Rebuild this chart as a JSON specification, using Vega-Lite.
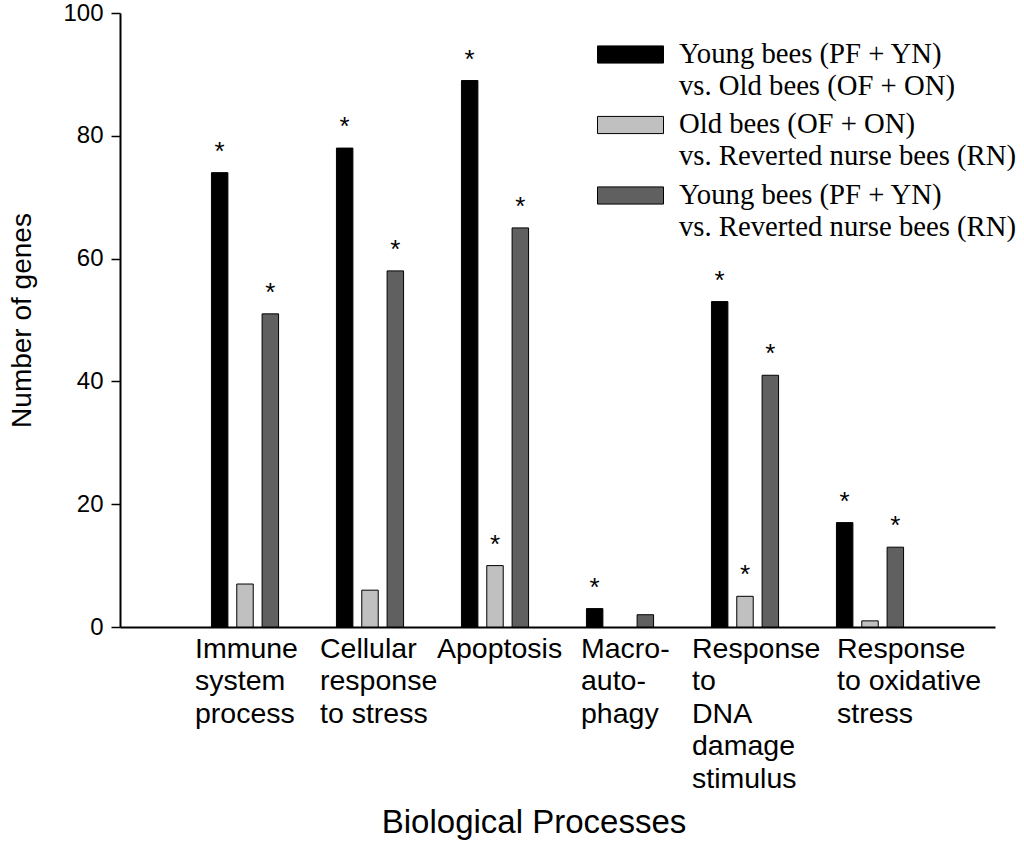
{
  "$schema": "https://vega.github.io/schema/vega-lite/v6.json",
  "autosize": {"type": "none"},
  "padding": {"left": 120, "top": 13, "right": 29, "bottom": 220},
  "width": 875,
  "height": 614,
  "background": "white",
  "config": {"view": {"stroke": null}, "font": "Liberation Sans"},
  "data": {
    "values": [
      {"process": "Immune system process", "comparison": "Young bees (PF + YN) vs. Old bees (OF + ON)", "genes": 74, "sig": true},
      {"process": "Immune system process", "comparison": "Old bees (OF + ON) vs. Reverted nurse bees (RN)", "genes": 7, "sig": false},
      {"process": "Immune system process", "comparison": "Young bees (PF + YN) vs. Reverted nurse bees (RN)", "genes": 51, "sig": true},
      {"process": "Cellular response to stress", "comparison": "Young bees (PF + YN) vs. Old bees (OF + ON)", "genes": 78, "sig": true},
      {"process": "Cellular response to stress", "comparison": "Old bees (OF + ON) vs. Reverted nurse bees (RN)", "genes": 6, "sig": false},
      {"process": "Cellular response to stress", "comparison": "Young bees (PF + YN) vs. Reverted nurse bees (RN)", "genes": 58, "sig": true},
      {"process": "Apoptosis", "comparison": "Young bees (PF + YN) vs. Old bees (OF + ON)", "genes": 89, "sig": true},
      {"process": "Apoptosis", "comparison": "Old bees (OF + ON) vs. Reverted nurse bees (RN)", "genes": 10, "sig": true},
      {"process": "Apoptosis", "comparison": "Young bees (PF + YN) vs. Reverted nurse bees (RN)", "genes": 65, "sig": true},
      {"process": "Macro-autophagy", "comparison": "Young bees (PF + YN) vs. Old bees (OF + ON)", "genes": 3, "sig": true},
      {"process": "Macro-autophagy", "comparison": "Old bees (OF + ON) vs. Reverted nurse bees (RN)", "genes": 0, "sig": false},
      {"process": "Macro-autophagy", "comparison": "Young bees (PF + YN) vs. Reverted nurse bees (RN)", "genes": 2, "sig": false},
      {"process": "Response to DNA damage stimulus", "comparison": "Young bees (PF + YN) vs. Old bees (OF + ON)", "genes": 53, "sig": true},
      {"process": "Response to DNA damage stimulus", "comparison": "Old bees (OF + ON) vs. Reverted nurse bees (RN)", "genes": 5, "sig": true},
      {"process": "Response to DNA damage stimulus", "comparison": "Young bees (PF + YN) vs. Reverted nurse bees (RN)", "genes": 41, "sig": true},
      {"process": "Response to oxidative stress", "comparison": "Young bees (PF + YN) vs. Old bees (OF + ON)", "genes": 17, "sig": true},
      {"process": "Response to oxidative stress", "comparison": "Old bees (OF + ON) vs. Reverted nurse bees (RN)", "genes": 1, "sig": false},
      {"process": "Response to oxidative stress", "comparison": "Young bees (PF + YN) vs. Reverted nurse bees (RN)", "genes": 13, "sig": true}
    ]
  },
  "encoding": {
    "x": {
      "field": "process",
      "type": "nominal",
      "sort": null,
      "scale": {
        "domain": ["Immune system process", "Cellular response to stress", "Apoptosis", "Macro-autophagy", "Response to DNA damage stimulus", "Response to oxidative stress"],
        "paddingInner": 0.463,
        "paddingOuter": 0.7315
      },
      "axis": {
        "title": "Biological Processes",
        "titleFontSize": 33,
        "titleFontWeight": "normal",
        "titleColor": "black",
        "titleX": 413.5,
        "titleY": 205,
        "titleBaseline": "alphabetic",
        "titleAlign": "center",
        "ticks": false,
        "labelAngle": 0,
        "labelAlign": "left",
        "labelBaseline": "top",
        "labelFontSize": 28.5,
        "labelColor": "black",
        "labelLineHeight": 32.5,
        "labelPadding": 7,
        "labelOverlap": false,
        "labelLimit": 0,
        "labelOffset": {
          "condition": [
            {"test": "datum.value === 'Apoptosis'", "value": -58},
            {"test": "datum.value === 'Macro-autophagy'", "value": -39},
            {"test": "datum.value === 'Response to DNA damage stimulus'", "value": -53},
            {"test": "datum.value === 'Response to oxidative stress'", "value": -33}
          ],
          "value": -50
        },
        "labelExpr": "datum.value === 'Immune system process' ? ['Immune','system','process'] : datum.value === 'Cellular response to stress' ? ['Cellular','response','to stress'] : datum.value === 'Macro-autophagy' ? ['Macro-','auto-','phagy'] : datum.value === 'Response to DNA damage stimulus' ? ['Response','to','DNA','damage','stimulus'] : datum.value === 'Response to oxidative stress' ? ['Response','to oxidative','stress'] : datum.value",
        "domainColor": "black",
        "domainWidth": 2
      }
    },
    "xOffset": {
      "field": "comparison",
      "type": "nominal",
      "sort": null,
      "scale": {
        "domain": ["Young bees (PF + YN) vs. Old bees (OF + ON)", "Old bees (OF + ON) vs. Reverted nurse bees (RN)", "Young bees (PF + YN) vs. Reverted nurse bees (RN)"],
        "paddingInner": 0.35,
        "paddingOuter": 0
      }
    },
    "y": {
      "field": "genes",
      "type": "quantitative",
      "scale": {"domain": [0, 100], "nice": false},
      "axis": {
        "values": [0, 20, 40, 60, 80, 100],
        "grid": false,
        "title": "Number of genes",
        "titleFontSize": 28,
        "titleFontWeight": "normal",
        "titleColor": "black",
        "titleX": -98,
        "titleY": 307,
        "titleBaseline": "middle",
        "titleAngle": -90,
        "titleAlign": "center",
        "labelFontSize": 24,
        "labelColor": "black",
        "labelPadding": 8,
        "tickSize": 9,
        "tickColor": "black",
        "tickWidth": 1.5,
        "domainColor": "black",
        "domainWidth": 2
      }
    }
  },
  "layer": [
    {
      "mark": {"type": "bar", "stroke": "black"},
      "encoding": {
        "strokeWidth": {"condition": {"test": "datum.genes === 0", "value": 0}, "value": 1},
        "color": {
          "field": "comparison",
          "type": "nominal",
          "scale": {
            "domain": ["Young bees (PF + YN) vs. Old bees (OF + ON)", "Old bees (OF + ON) vs. Reverted nurse bees (RN)", "Young bees (PF + YN) vs. Reverted nurse bees (RN)"],
            "range": ["#000000", "#c0c0c0", "#606060"]
          },
          "legend": {
            "orient": "none",
            "legendX": 493.5,
            "legendY": 24.5,
            "title": null,
            "padding": 0,
            "labelFont": "Liberation Serif",
            "labelFontSize": 28.7,
            "labelColor": "black",
            "labelLimit": 500,
            "labelOffset": 31.5,
            "labelBaseline": "alphabetic",
            "symbolType": "M-2,-0.52H2V0.52H-2Z",
            "symbolSize": 1089,
            "symbolStrokeColor": "black",
            "symbolStrokeWidth": 1,
            "symbolOpacity": 1,
            "rowPadding": 7.5,
            "labelExpr": "split(replace(datum.label, ' vs.', '|vs.'), '|')",
            "encode": {"labels": {"update": {"lineHeight": {"value": 32}, "dy": {"value": 8}}}}
          }
        }
      }
    },
    {
      "transform": [{"filter": "datum.sig"}],
      "mark": {"type": "text", "text": "*", "fontSize": 26, "baseline": "alphabetic", "align": "center", "dy": -13, "color": "black"}
    }
  ]
}
